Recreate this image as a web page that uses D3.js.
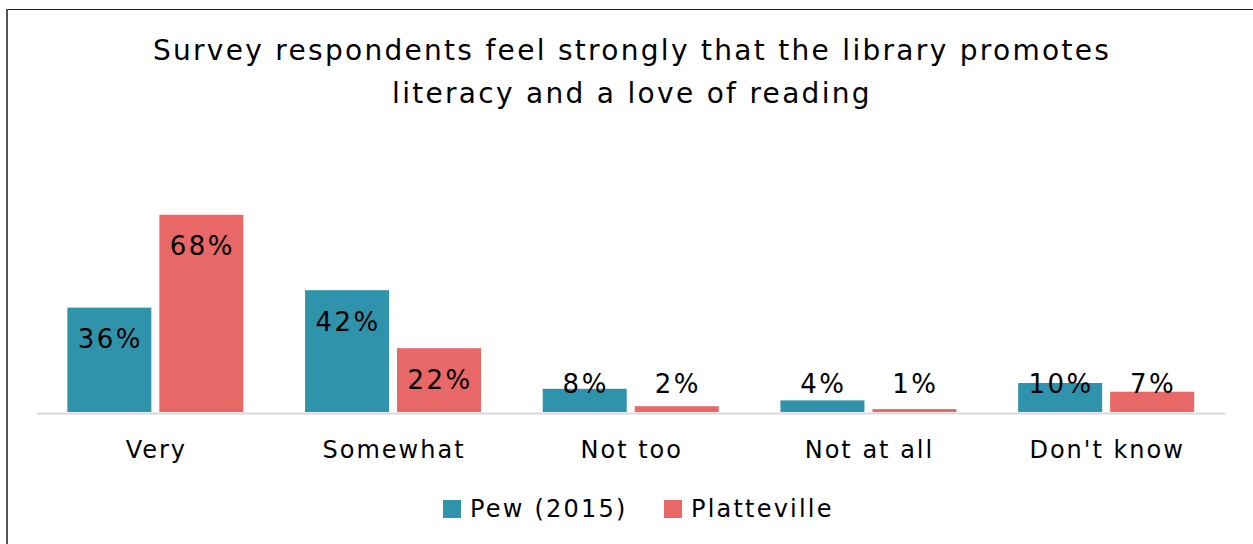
<!DOCTYPE html>
<html>
<head>
<meta charset="utf-8">
<script src="https://cdn.jsdelivr.net/npm/d3@7"></script>
<style>
  html, body { margin: 0; padding: 0; background: #fff; }
  svg { display: block; }
  text { font-family: "DejaVu Sans", sans-serif; fill: #000; }
</style>
</head>
<body>
<svg id="chart" width="1253" height="544"></svg>
<script>
// Responses by category
const categories = ["Very", "Somewhat", "Not too", "Not at all", "Don't know"];
const seriesNames = ["Pew (2015)", "Platteville"];
const pewValues = [36, 42, 8, 4, 10];
const plattevilleValues = [68, 22, 2, 1, 7];
const seriesColors = ["#2e93ab", "#e86767"];
const titleLines = [
  "Survey respondents feel strongly that the library promotes",
  "literacy and a love of reading"
];

const svg = d3.select("#chart");
const W = 1253, H = 544;

// frame lines along top and left edge
svg.append("line").attr("x1", 6).attr("x2", W).attr("y1", 9.5).attr("y2", 9.5)
  .attr("stroke", "#222").attr("stroke-width", 1);
svg.append("line").attr("x1", 7).attr("x2", 7).attr("y1", 9).attr("y2", H)
  .attr("stroke", "#555").attr("stroke-width", 2);

// title
svg.append("g").selectAll("text").data(titleLines).join("text")
  .attr("x", 632)
  .attr("y", (d, i) => 60 + i * 43)
  .attr("text-anchor", "middle")
  .style("font-size", "28px")
  .style("letter-spacing", "2.3px")
  .text(d => d);

const plot = { left: 36.5, right: 1225, baseline: 412 };

const x0 = d3.scaleBand().domain(categories).range([plot.left, plot.right]).padding(0);
const groupW = 176;
const x1 = d3.scaleBand().domain(seriesNames).range([0, groupW]).paddingInner(0.087);
const y = d3.scaleLinear().domain([0, 100]).range([plot.baseline, plot.baseline - 290]);

const rows = categories.map((c, i) => ({
  category: c,
  values: [
    { series: seriesNames[0], value: pewValues[i] },
    { series: seriesNames[1], value: plattevilleValues[i] }
  ]
}));

const color = d3.scaleOrdinal().domain(seriesNames).range(seriesColors);

const groups = svg.append("g").selectAll("g").data(rows).join("g")
  .attr("transform", d => `translate(${x0(d.category) + (x0.bandwidth() - groupW) / 2},0)`);

groups.selectAll("rect").data(d => d.values).join("rect")
  .attr("x", d => x1(d.series))
  .attr("width", x1.bandwidth())
  .attr("y", d => y(d.value))
  .attr("height", d => y(0) - y(d.value))
  .attr("fill", d => color(d.series));

// baseline axis
const xAxis = d3.axisBottom(x0).tickSize(0).tickPadding(0);
const axisG = svg.append("g").attr("transform", `translate(0,${plot.baseline + 1})`).call(xAxis);
axisG.select(".domain").attr("stroke", "#d9d9d9").attr("stroke-width", 2);
axisG.selectAll(".tick text")
  .attr("dy", 0)
  .attr("y", 45)
  .attr("dx", 1)
  .style("font-size", "24px")
  .style("letter-spacing", "2px")
  .style("font-family", "'DejaVu Sans', sans-serif")
  .attr("fill", "#000");

// value labels: inside the top of tall bars, above short ones
groups.selectAll("text.val").data(d => d.values).join("text")
  .attr("class", "val")
  .attr("x", d => x1(d.series) + x1.bandwidth() / 2 + 1)
  .attr("y", d => {
    const top = y(d.value);
    const inside = top + 31;
    return Math.min(inside, plot.baseline - 29) + 9.5;
  })
  .attr("text-anchor", "middle")
  .style("font-size", "26px")
  .style("letter-spacing", "2.5px")
  .text(d => d.value + "%");

// legend
const legend = svg.append("g").attr("transform", "translate(443,500)");
const legendX = [0, 221];
const items = legend.selectAll("g").data(seriesNames).join("g")
  .attr("transform", (d, i) => `translate(${legendX[i]},0)`);
items.append("rect").attr("width", 18).attr("height", 18).attr("y", 0)
  .attr("fill", d => color(d));
items.append("text").attr("x", 27).attr("y", 17)
  .style("font-size", "24px")
  .style("letter-spacing", "2.2px")
  .text(d => d);
</script>
</body>
</html>
